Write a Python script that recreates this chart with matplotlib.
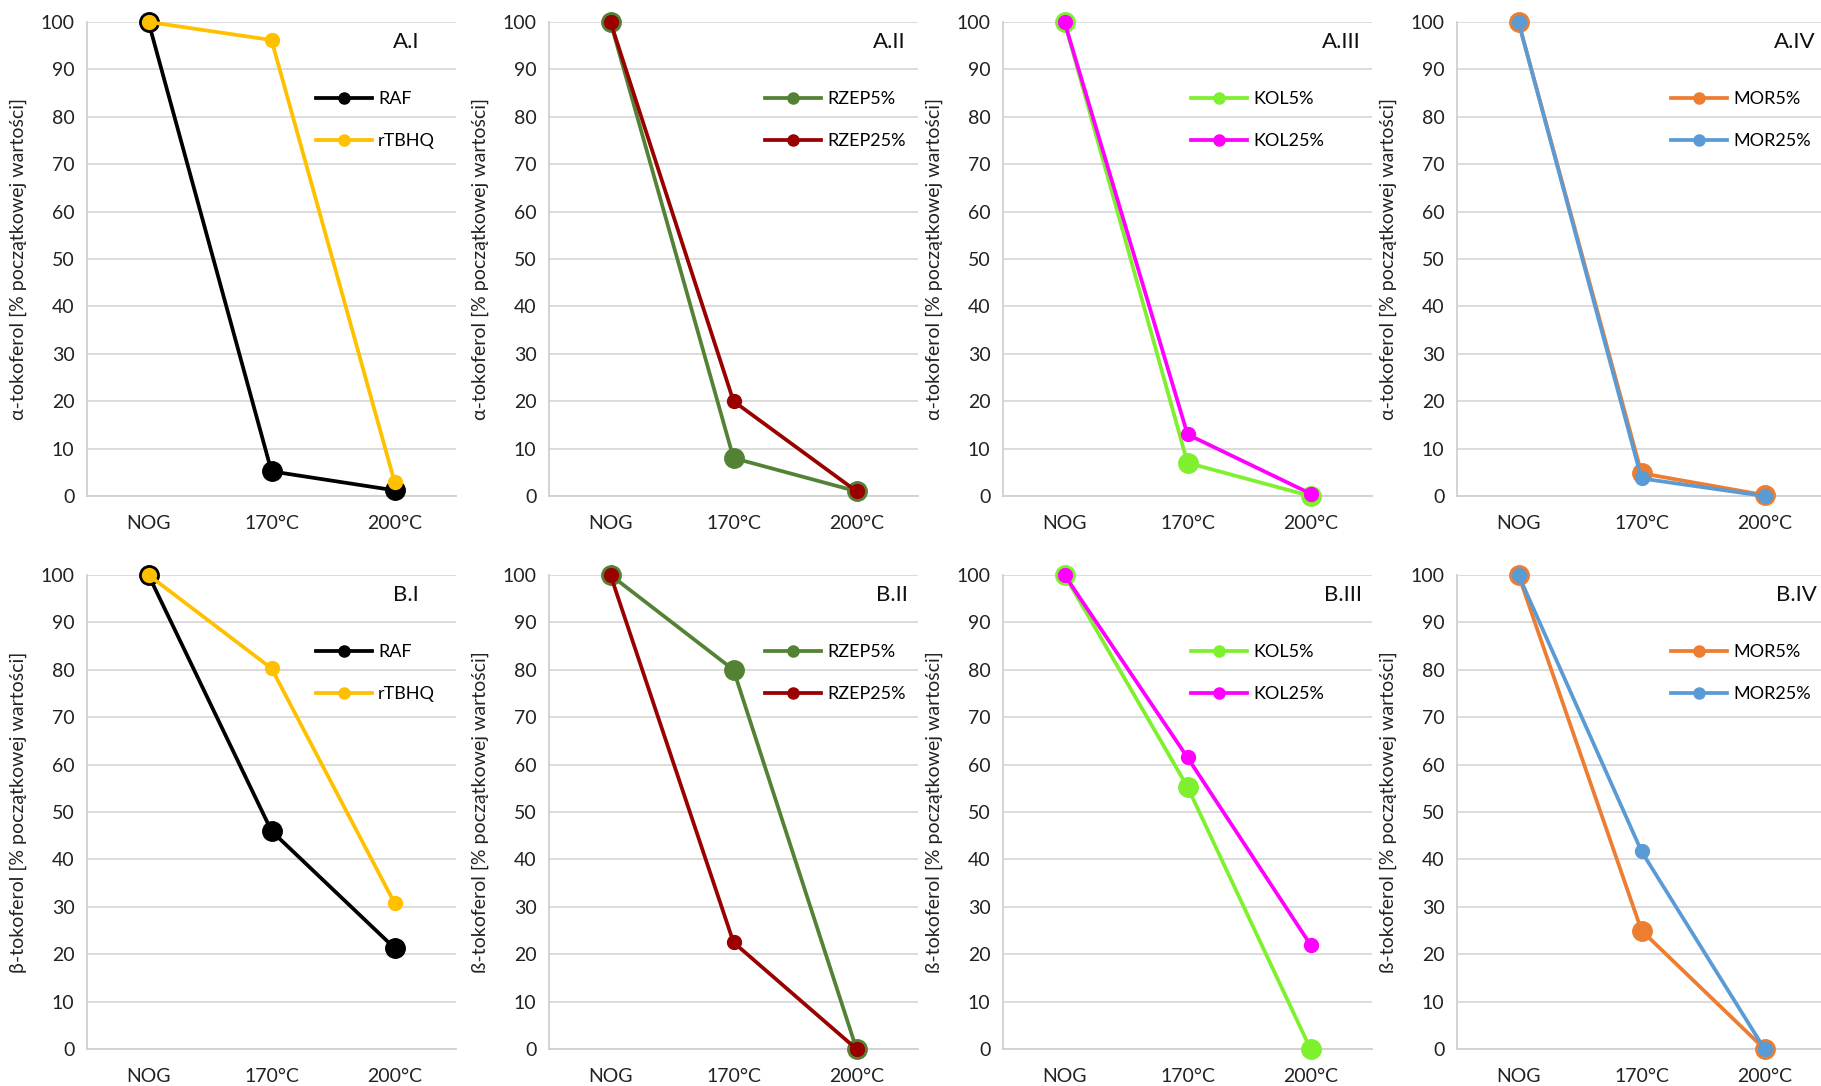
import matplotlib
matplotlib.use("Agg")
import matplotlib.pyplot as plt

plt.rcParams['font.family'] = ['Lato', 'DejaVu Sans']

categories = ["NOG", "170°C", "200°C"]

# Row A: alpha-tocopherol
a1_names = ["RAF", "rTBHQ"]
a1_s1 = [100, 5.2, 1.2]
a1_s2 = [100, 96.2, 3.0]
a2_names = ["RZEP5%", "RZEP25%"]
a2_s1 = [100, 8.0, 1.0]
a2_s2 = [100, 20.0, 1.0]
a3_names = ["KOL5%", "KOL25%"]
a3_s1 = [100, 7.0, 0.0]
a3_s2 = [100, 13.0, 0.5]
a4_names = ["MOR5%", "MOR25%"]
a4_s1 = [100, 4.8, 0.2]
a4_s2 = [100, 3.7, 0.0]

# Row B: beta-tocopherol
b1_names = ["RAF", "rTBHQ"]
b1_s1 = [100, 46.0, 21.3]
b1_s2 = [100, 80.3, 30.8]
b2_names = ["RZEP5%", "RZEP25%"]
b2_s1 = [100, 80.0, 0.0]
b2_s2 = [100, 22.5, 0.0]
b3_names = ["KOL5%", "KOL25%"]
b3_s1 = [100, 55.3, 0.0]
b3_s2 = [100, 61.5, 22.0]
b4_names = ["MOR5%", "MOR25%"]
b4_s1 = [100, 25.0, 0.0]
b4_s2 = [100, 41.7, 0.0]

panel_labels = ["A.I", "A.II", "A.III", "A.IV", "B.I", "B.II", "B.III", "B.IV"]
ylabels_a = "α-tokoferol [% początkowej wartości]"
ylabels_b = ["β-tokoferol [% początkowej wartości]",
             "ß-tokoferol [% początkowej wartości]",
             "ß-tokoferol [% początkowej wartości]",
             "ß-tokoferol [% początkowej wartości]"]

colors = [("#000000", "#FFC000"), ("#548235", "#990000"),
          ("#7FF02E", "#FF00FF"), ("#ED7D31", "#5B9BD5")]

panels = [
    (a1_names, a1_s1, a1_s2), (a2_names, a2_s1, a2_s2),
    (a3_names, a3_s1, a3_s2), (a4_names, a4_s1, a4_s2),
    (b1_names, b1_s1, b1_s2), (b2_names, b2_s1, b2_s2),
    (b3_names, b3_s1, b3_s2), (b4_names, b4_s1, b4_s2),
]

W, H = 1821, 1086
fig = plt.figure(figsize=(W / 100, H / 100), dpi=100)

lefts = [87, 549, 1003, 1457]
width = 369
bottoms = [H - 496, H - 1049]
height = 474
leg_x = [0.61, 0.575, 0.50, 0.571]
lab_x = [0.90, 0.967, 0.970, 0.973, 0.90, 0.973, 0.973, 0.974]

FS = 14

x = list(range(len(categories)))
for i, (names, s1, s2) in enumerate(panels):
    row, col = divmod(i, 4)
    ax = fig.add_axes([lefts[col] / W, bottoms[row] / H, width / W, height / H])
    c1, c2 = colors[col]
    l1, = ax.plot(x, s1, color=c1, lw=2.7, marker='o', ms=14, label=names[0],
                  clip_on=False, zorder=3)
    l2, = ax.plot(x, s2, color=c2, lw=2.7, marker='o', ms=10, label=names[1],
                  clip_on=False, zorder=4)
    ax.set_xlim(-0.5, 2.5)
    ax.set_ylim(0, 100)
    ax.set_yticks(range(0, 101, 10))
    ax.set_xticks(x)
    ax.set_xticklabels(categories)
    ax.grid(axis='y', color='#D9D9D9', lw=1.3, zorder=0)
    ax.set_axisbelow(True)
    for s in ['top', 'right']:
        ax.spines[s].set_visible(False)
    for s in ['left', 'bottom']:
        ax.spines[s].set_color('#D0D0D0')
        ax.spines[s].set_linewidth(1.3)
    ax.tick_params(length=0, labelsize=FS, colors='#222222', pad=9)
    ax.tick_params(axis='x', pad=14)
    ylab = ylabels_a if row == 0 else ylabels_b[col]
    ax.set_ylabel(ylab, fontsize=FS, color='#222222', labelpad=10)
    ax.text(lab_x[i], 0.957, panel_labels[i], transform=ax.transAxes,
            ha='right', va='center', fontsize=16, color='#111111')
    leg = ax.legend(handles=[l1, l2], loc='upper left',
                    bbox_to_anchor=(leg_x[col] - 0.01, 0.87),
                    frameon=False, fontsize=13, handlelength=3.1,
                    handletextpad=0.35, labelspacing=1.45, borderaxespad=0)
    for h in leg.legend_handles:
        h.set_markersize(8)

fig.savefig("out.png", dpi=100)
